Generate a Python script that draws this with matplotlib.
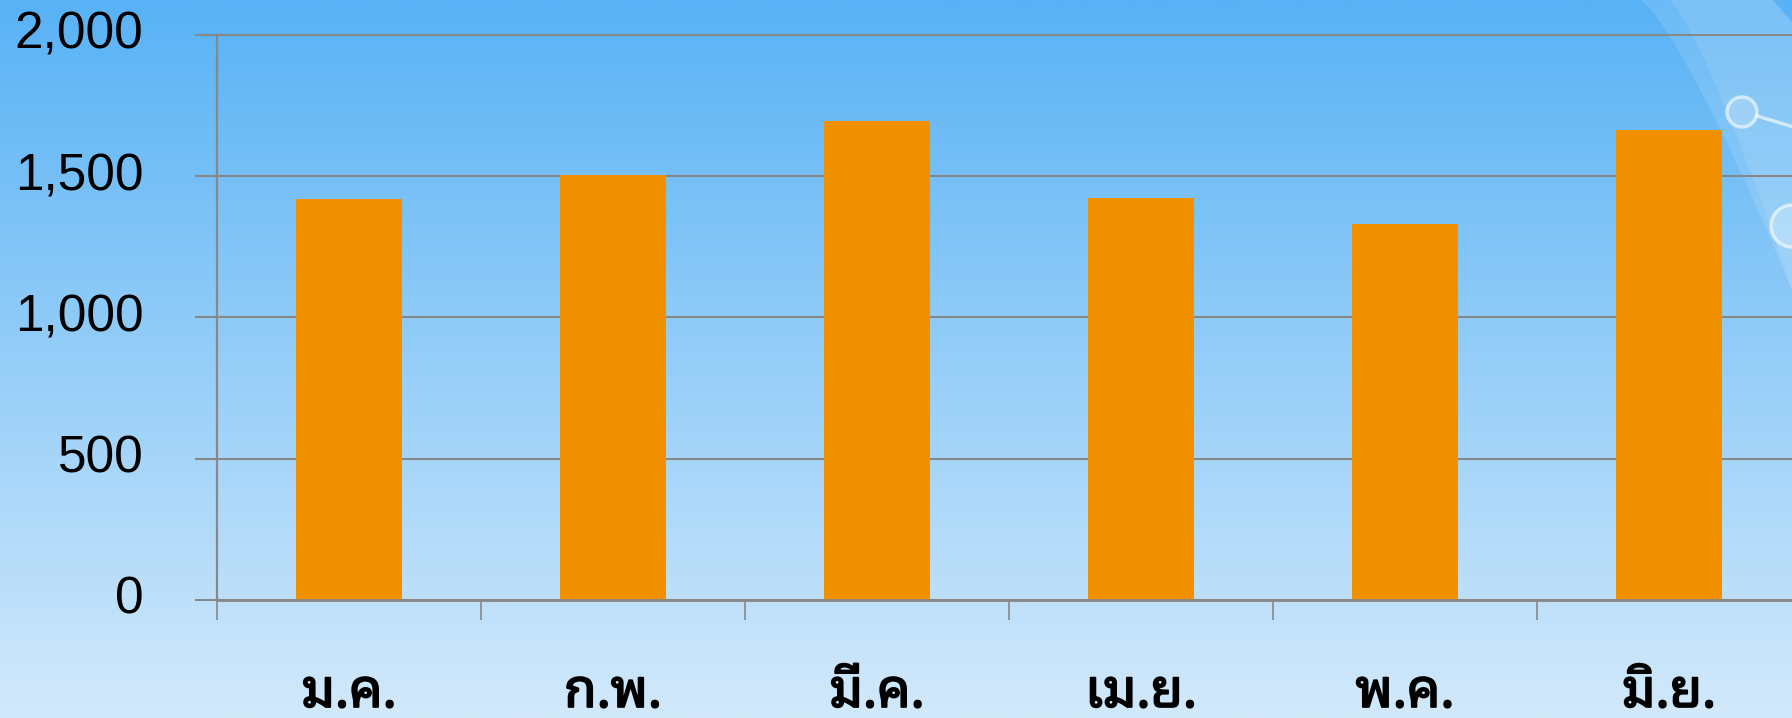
import matplotlib
matplotlib.use("Agg")
import matplotlib.pyplot as plt
import matplotlib.transforms as mtransforms
import matplotlib.patheffects as pe
from matplotlib.patches import Polygon, Circle
import numpy as np

months = ["ม.ค.", "ก.พ.", "มี.ค.", "เม.ย.", "พ.ค.", "มิ.ย."]
values = [1418, 1505, 1697, 1424, 1331, 1664]
yticks = [0, 500, 1000, 1500, 2000]
ytick_labels = ["0", "500", "1,000", "1,500", "2,000"]

bar_color = "#F29100"
grid_color = "#888888"

W, H = 1792, 718
fig = plt.figure(figsize=(W / 100, H / 100), dpi=100)

# background: vertical blue gradient with the light arc in the top right corner
bg = fig.add_axes([0, 0, 1, 1], zorder=-10)
top = np.array([88, 178, 245]) / 255.0
bottom = np.array([210, 233, 251]) / 255.0
t = np.linspace(0, 1, 256)[:, None]
grad = top + (bottom - top) * t
bg.imshow(grad[:, None, :], extent=[0, W, H, 0], aspect="auto")
bg.set_xlim(0, W)
bg.set_ylim(H, 0)
bg.axis("off")

yy = np.linspace(0, 320, 50)
outer = 1641 + 151 * (yy / 290) ** 0.8
band = list(zip(outer, yy)) + [(W + 5, 320), (W + 5, 28), (1773, 0)]
bg.add_patch(Polygon(band, closed=True, facecolor="white", edgecolor="none", alpha=0.12))
inner = 1670 + 122 * (yy / 290) ** 0.8
band2 = list(zip(inner, yy)) + [(W + 5, 320), (W + 5, 28), (1773, 0)]
bg.add_patch(Polygon(band2, closed=True, facecolor="white", edgecolor="none", alpha=0.1))
bg.plot([1757, W + 5], [116, 128], color="white", alpha=0.6, lw=2.5)
bg.add_patch(Circle((1742, 112), 15, facecolor=(1, 1, 1, 0.18), edgecolor=(1, 1, 1, 0.6), lw=2.5))
bg.add_patch(Circle((1792, 226), 21, facecolor=(1, 1, 1, 0.25), edgecolor=(1, 1, 1, 0.6), lw=2.5))

# chart
ax = fig.add_axes([217 / W, 1 - 600 / H, 1584 / W, 565 / H])
ax.patch.set_alpha(0)
x = np.arange(len(months))
ax.bar(x, values, width=0.4, color=bar_color, zorder=3)

ax.set_xlim(-0.5, len(months) - 0.5)
ax.set_ylim(0, 2000)

for side in ["top", "right"]:
    ax.spines[side].set_visible(False)
ax.spines["left"].set_color(grid_color)
ax.spines["left"].set_linewidth(1.6)
ax.spines["bottom"].set_color(grid_color)
ax.spines["bottom"].set_linewidth(2)
ax.spines["bottom"].set_zorder(4)

ax.set_yticks(yticks, ytick_labels)
ax.yaxis.grid(True, color=grid_color, linewidth=1.5, zorder=1)
for line in ax.get_ygridlines():
    line.set_clip_on(False)
ax.tick_params(axis="y", length=16, width=1.5, color=grid_color, pad=37,
               labelsize=37, labelcolor="black")
shift = mtransforms.ScaledTranslation(0, 5 / 100, fig.dpi_scale_trans)
for lab in ax.get_yticklabels():
    lab.set_fontfamily(["Liberation Sans", "DejaVu Sans"])
    lab.set_transform(lab.get_transform() + shift)

ax.set_xticks(x, months)
ax.set_xticks(np.arange(len(months) + 1) - 0.5, minor=True)
ax.tick_params(axis="x", which="minor", length=14.5, width=1.2, color=grid_color)
ax.tick_params(axis="x", which="major", length=0, pad=77, labelsize=38)
for lab in ax.get_xticklabels():
    lab.set_fontfamily(["Noto Sans Thai Looped", "DejaVu Sans"])
    lab.set_fontweight("bold")
    lab.set_verticalalignment("baseline")
    lab.set_path_effects([pe.withStroke(linewidth=1.3, foreground="black")])

fig.savefig("out.png", dpi=100)
